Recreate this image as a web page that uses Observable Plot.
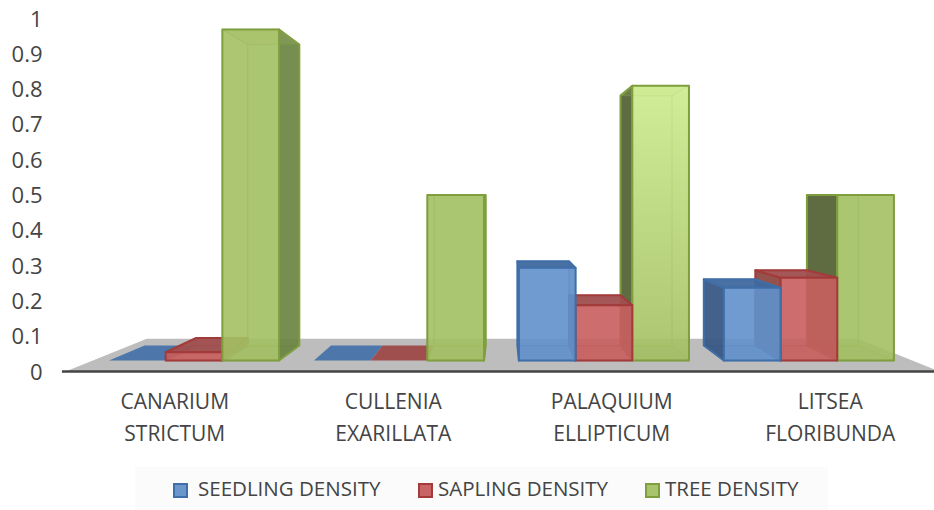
<!DOCTYPE html>
<html><head><meta charset="utf-8">
<script src="https://cdn.jsdelivr.net/npm/d3@7"></script>
<script src="https://cdn.jsdelivr.net/npm/@observablehq/plot@0.6"></script>
<style>
html,body{margin:0;padding:0;background:#fff;width:934px;height:510px;overflow:hidden}
#chart{position:absolute;left:0;top:0}
#legend{position:absolute;left:135px;top:467px;width:693px;height:43px;background:#fbfbfb;font:20.5px "Open Sans",sans-serif;color:#444}
#legend span{position:absolute;top:7px;line-height:28px;white-space:nowrap}
#legend i{position:absolute;top:16px;width:11px;height:11px;border-width:2px;border-style:solid}
</style></head><body>
<div id="chart"></div><div id="legend"></div>
<script>
const categories = ["CANARIUM\nSTRICTUM","CULLENIA\nEXARILLATA","PALAQUIUM\nELLIPTICUM","LITSEA\nFLORIBUNDA"];
const seedling = [0,0,0.28,0.22];
const sapling = [0.025,0,0.167,0.25];
const tree = [1,0.5,0.83,0.5];
const yTicks = [0,0.1,0.2,0.3,0.4,0.5,0.6,0.7,0.8,0.9,1];
const seriesNames = ["SEEDLING DENSITY","SAPLING DENSITY","TREE DENSITY"];
const styles = [
 {front:"#6291cb",side:"#3a5985",top:"#41699f",stroke:"#3f6ea8",key:"#6a96cc"},
 {front:"#c85f5f",side:"#8f4a43",top:"#a04f4f",stroke:"#a33b3b",key:"#c96464"},
 {front:"#a3c063",side:"#566439",top:"#9ab35f",stroke:"#7f9e3e",key:"#a8c46c"}
];
const K = {front:0.938, back:0.853, wall:0.814}, vx = 2, vy = 0.5, barW = 0.2766, pad = 0.08;
const P = (x,v,k)=>({x:vx+k*(x-vx), y:vy+k*(v-vy)});
const poly = (pts,o)=>Plot.line([...pts,pts[0]],{x:"x",y:"y",strokeLinejoin:"round",...o});
const marks = [];
marks.push(()=>{const s=d3.create("svg:g");const g=s.append("defs").append("linearGradient").attr("id","lit").attr("x1",0).attr("x2",0).attr("y1",0).attr("y2",1);
 g.append("stop").attr("offset",0).attr("stop-color","#cdec8e");g.append("stop").attr("offset",1).attr("stop-color","#a3bf62");return s.node();});
marks.push(poly([P(0,0,1),P(4,0,1),P(4,0,K.wall),P(0,0,K.wall)],{fill:"#bdbdbd",stroke:"none"}));
marks.push(Plot.ruleY([0],{x1:-0.014,x2:4,stroke:"#444",strokeWidth:2.5}));
function bar(c,s,v){
 const st=styles[s], x0=c+pad+s*barW, x1=x0+barW, kf=K.front,kb=K.back;
 const f=[P(x0,0,kf),P(x1,0,kf),P(x1,v,kf),P(x0,v,kf)], b=[P(x0,0,kb),P(x1,0,kb),P(x1,v,kb),P(x0,v,kb)];
 const line={stroke:st.stroke,strokeWidth:1.2,strokeOpacity:.45};
 const strong={stroke:st.stroke,strokeWidth:2};
 if(v===0){marks.push(poly([f[0],f[1],b[1],b[0]],{fill:s==0?"#4d77aa":"#a04f4f",stroke:"none"}));return;}
 const outRight = x1 < vx;
 marks.push(poly([b[0],b[1],b[2],b[3]],{fill:st.front,fillOpacity:.12,...line}));
 marks.push(poly([f[0],f[1],b[1],b[0]],{fill:st.side,fillOpacity:.18,...line}));
 const side = outRight?[f[1],f[2],b[2],b[1]]:[f[0],f[3],b[3],b[0]];
 const other= outRight?[f[0],f[3],b[3],b[0]]:[f[1],f[2],b[2],b[1]];
 marks.push(poly(side,{fill:outRight&&s===2?"#6b8444":st.side,fillOpacity:outRight&&s===2?.92:.95,...strong}));
 marks.push(poly(other,{fill:st.side,fillOpacity:s===2?.03:.25,...line}));
 const low = v<0.5;
 marks.push(poly([f[3],f[2],b[2],b[3]],{fill:st.top,fillOpacity:low?.95:.25,...(low?strong:line)}));
 const lit = s===2&&c===2;
 marks.push(poly(f,{fill:lit?"url(#lit)":st.front,fillOpacity:.9,...strong}));
}
for(const c of [0,1]) for(const s of [0,1,2]) bar(c,s,[seedling,sapling,tree][s][c]);
for(const c of [2,3]) for(const s of [2,1,0]) bar(c,s,[seedling,sapling,tree][s][c]);
marks.push(Plot.text(categories,{x:(d,i)=>i+0.5,y:()=>0,text:d=>d,dy:43.5,lineAnchor:"middle",lineHeight:1.52,fill:"#444",fontSize:21}));
marks.push(Plot.axisY({ticks:yTicks,tickSize:0,tickPadding:0,label:null,tickFormat:d=>String(d),fontSize:22,color:"#444",fill:"#444",anchor:"left",textAnchor:"end",dy:1}));
const chart = Plot.plot({width:934,height:467,marginLeft:42,marginRight:0,marginTop:18,marginBottom:96,
 style:{fontFamily:"'Open Sans',sans-serif",background:"transparent",overflow:"hidden"},
 x:{domain:[0,4],range:[65,939],axis:null},
 y:{domain:[0,1],range:[371,18]},
 marks});
document.getElementById("chart").append(chart);
const lg=document.getElementById("legend");
const pos=[[38,63],[283,303],[510,530]];
seriesNames.forEach((n,i)=>{const k=document.createElement("i");k.style.left=pos[i][0]+"px";k.style.background=styles[i].key;k.style.borderColor=styles[i].stroke;lg.append(k);
 const t=document.createElement("span");t.textContent=n;t.style.left=pos[i][1]+"px";lg.append(t);});
</script></body></html>
